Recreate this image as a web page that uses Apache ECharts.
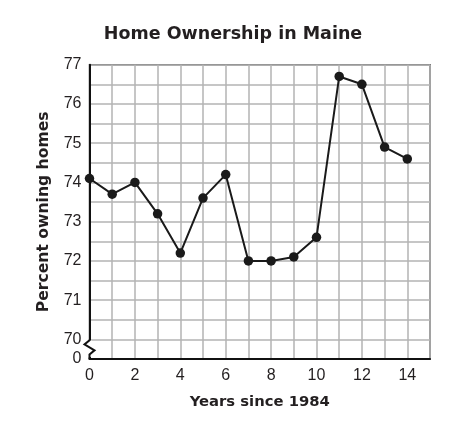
<!DOCTYPE html>
<html><head><meta charset="utf-8">
<script src="https://cdn.jsdelivr.net/npm/echarts@6/dist/echarts.min.js"></script>
<style>html,body{margin:0;padding:0;background:#fff}#c{width:473px;height:421px}</style>
</head><body><div id="c"></div>
<script>
var years = [0,1,2,3,4,5,6,7,8,9,10,11,12,13,14];
var percents = [74.1,73.7,74.0,73.2,72.2,73.6,74.2,72.0,72.0,72.1,72.6,76.7,76.5,74.9,74.6];
var titleText = 'Home Ownership in Maine';
var xName = 'Years since 1984';
var yName = 'Percent owning homes';
var yBreakValue = 70;     // axis break between 0 and 70
var yBottomValue = 69.5;  // position labelled "0"

var chart = echarts.init(document.getElementById('c'), null, {renderer:'canvas'});
var font = 'Arial, "Liberation Sans", Helvetica, sans-serif';
var boldFont = '"DejaVu Sans", Verdana, sans-serif';
var option = {
  backgroundColor: '#fff',
  animation: false,
  title: {text: titleText, left: 228, top: 20, textAlign: 'center',
    textStyle: {fontFamily: boldFont, fontWeight: 'bold', fontSize: 17.5, color: '#231f20'}},
  grid: {left: 89.5, top: 64.7, right: 43, bottom: 62, show: true, borderColor: '#444', borderWidth: 1.5},
  xAxis: {type: 'value', min: 0, max: 15, interval: 1,
    name: xName, nameLocation: 'middle', nameGap: 36,
    nameTextStyle: {fontFamily: boldFont, fontWeight: 'bold', fontSize: 14.8, color: '#231f20'},
    axisLine: {show: true, lineStyle: {color: '#111', width: 2}},
    axisTick: {show: false},
    axisLabel: {margin: 9, fontFamily: font, fontSize: 16, color: '#231f20',
      formatter: function(v){ return (v % 2 === 0 && v <= 14) ? String(v) : ''; }},
    splitLine: {show: true, lineStyle: {color: '#b3b3b3', width: 1.5}}
  },
  yAxis: {type: 'value', min: yBottomValue, max: 77, interval: 0.5,
    name: yName, nameLocation: 'middle', nameGap: 38,
    nameTextStyle: {fontFamily: boldFont, fontWeight: 'bold', fontSize: 15.6, color: '#231f20'},
    axisLine: {show: true, lineStyle: {color: '#111', width: 2}},
    axisTick: {show: false},
    axisLabel: {margin: 8, fontFamily: font, fontSize: 16, color: '#231f20',
      formatter: function(v){ if (Math.abs(v - yBottomValue) < 1e-6) return '0'; return Number.isInteger(v) ? String(v) : ''; }},
    splitLine: {show: true, lineStyle: {color: '#b3b3b3', width: 1.5}}
  },
  series: [{type: 'line', data: years.map(function(x,i){return [x, percents[i]];}),
    symbol: 'circle', symbolSize: 9.5,
    lineStyle: {color: '#1a1a1a', width: 2},
    itemStyle: {color: '#1a1a1a'}}]
};
chart.setOption(option);
var ax = chart.convertToPixel({xAxisIndex: 0}, 0);
var y70 = chart.convertToPixel({yAxisIndex: 0}, yBreakValue);
var yb = chart.convertToPixel({yAxisIndex: 0}, yBottomValue);
chart.setOption({graphic: [
  {type: 'rect', shape: {x: ax - 2, y: y70 + 1, width: 4, height: yb - y70 - 3}, style: {fill: '#fff'}, z: 100},
  {type: 'polyline', shape: {points: [[ax, y70], [ax, y70 + 1], [ax - 5, y70 + 5], [ax + 5, y70 + 11], [ax, y70 + 15], [ax, yb]]},
    style: {stroke: '#111', lineWidth: 2, fill: null}, z: 101}
]});
</script></body></html>
